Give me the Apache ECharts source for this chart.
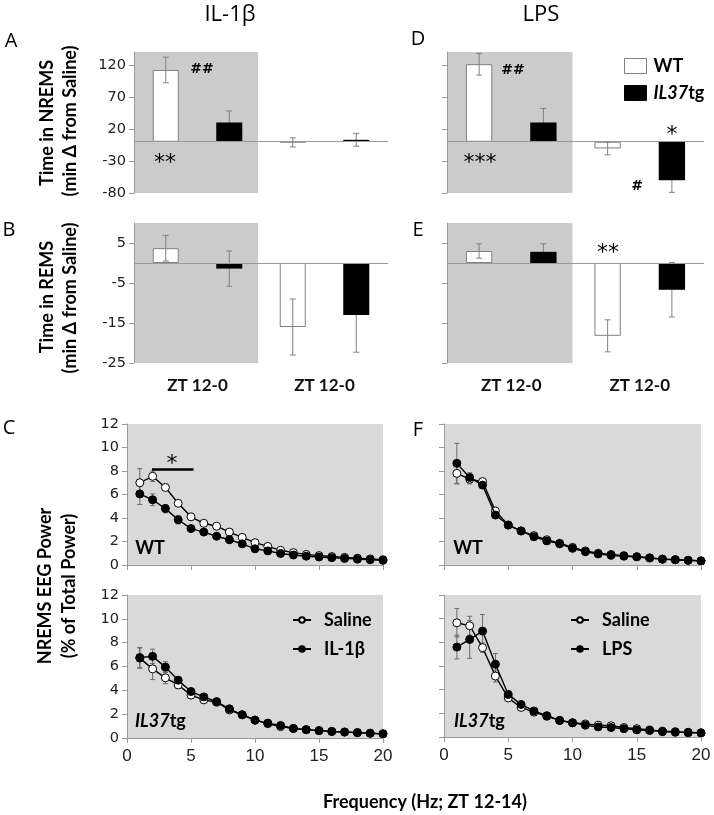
<!DOCTYPE html>
<html><head><meta charset="utf-8">
<script src="https://cdn.jsdelivr.net/npm/echarts@6/dist/echarts.min.js"></script>
<style>html,body{margin:0;padding:0;background:#fff}#main{width:714px;height:815px}</style>
</head><body><div id="main"></div>
<script>
// ---------- data ----------
const barCategories = ['ZT 12-0', 'ZT 12-0'];
const nremIl1WT = [112, -1];
const nremIl1WTErr = [20, 7];
const nremIl1TG = [30, 3];
const nremIl1TGErr = [18, 10];
const remIl1WT = [3.7, -16];
const remIl1WTErr = [3.2, 7];
const remIl1TG = [-1.4, -13];
const remIl1TGErr = [4.4, 9.3];
const nremLpsWT = [121, -10.5];
const nremLpsWTErr = [17, 10];
const nremLpsTG = [30, -60];
const nremLpsTGErr = [22, 19];
const remLpsWT = [3, -18.2];
const remLpsWTErr = [1.8, 4];
const remLpsTG = [2.8, -6.7];
const remLpsTGErr = [2, 6.8];
const nremTicks = [-80, -30, 20, 70, 120];
const remTicks = [-25, -15, -5, 5];

const freqHz = [1,2,3,4,5,6,7,8,9,10,11,12,13,14,15,16,17,18,19,20];
const il1WTSaline = [7.0,7.55,6.6,5.25,4.1,3.55,3.3,2.8,2.35,1.9,1.58,1.25,1.05,0.9,0.8,0.72,0.65,0.58,0.52,0.45];
const il1WTSalineErr = [1.2,0.45,0.25,0.2,0,0,0,0,0,0,0,0,0,0,0,0,0,0,0,0];
const il1WTIl1 = [6.05,5.55,4.8,3.85,3.1,2.8,2.45,2.15,1.8,1.38,1.2,0.98,0.85,0.75,0.68,0.62,0.56,0.5,0.45,0.4];
const il1WTIl1Err = [0.9,0.5,0.35,0.35,0.2,0,0,0,0,0,0,0,0,0,0,0,0,0,0,0];
const il1TGSaline = [6.7,5.8,5.05,4.45,3.6,3.2,3.0,2.35,1.95,1.5,1.2,0.95,0.8,0.7,0.62,0.55,0.5,0.45,0.4,0.35];
const il1TGSalineErr = [0.85,0.9,0.5,0.3,0.2,0.2,0,0,0,0,0,0,0,0,0,0,0,0,0,0];
const il1TGIl1 = [6.75,6.85,5.95,4.85,3.9,3.45,3.05,2.45,1.95,1.5,1.25,1.05,0.8,0.7,0.62,0.55,0.5,0.45,0.4,0.35];
const il1TGIl1Err = [0.85,0.6,0.45,0.3,0.2,0.2,0.3,0,0,0,0,0,0,0,0,0,0,0,0,0];
const lpsWTSaline = [7.8,7.3,7.1,4.6,3.4,2.9,2.5,2.15,1.85,1.5,1.2,1.0,0.9,0.8,0.7,0.6,0.5,0.45,0.4,0.35];
const lpsWTSalineErr = [0.9,0.4,0.2,0,0,0,0,0,0,0,0,0,0,0,0,0,0,0,0,0];
const lpsWTLps = [8.65,7.45,6.8,4.25,3.4,2.9,2.4,2.05,1.8,1.42,1.13,0.94,0.82,0.75,0.7,0.6,0.5,0.45,0.4,0.35];
const lpsWTLpsErr = [1.7,0.4,0.2,0,0,0,0,0,0,0,0,0,0,0,0,0,0,0,0,0];
const lpsTGSaline = [9.65,9.4,7.55,5.15,3.3,2.5,2.1,1.75,1.4,1.2,1.1,1.0,0.95,0.8,0.7,0.6,0.5,0.45,0.35,0.35];
const lpsTGSalineErr = [1.2,0.8,0.4,0.5,0.2,0,0,0,0,0,0,0,0,0,0,0,0,0,0,0];
const lpsTGLps = [7.6,8.25,8.95,6.15,3.6,2.75,2.2,1.8,1.4,1.2,1.0,0.85,0.8,0.7,0.6,0.55,0.45,0.4,0.4,0.35];
const lpsTGLpsErr = [1.0,1.6,1.4,0.9,0.3,0,0,0,0,0,0,0,0,0,0,0,0,0,0,0];

// ---------- styling helpers ----------
const AX = '#9a9a9a';
const BOLD = 'Lato';
const NUM = 'DejaVu Sans';
const chart = echarts.init(document.getElementById('main'));

const grids = [
  {left:134, top:52, width:254, height:141},   // 0 A
  {left:134, top:223, width:254, height:140},  // 1 B
  {left:447, top:52, width:257, height:141},   // 2 D
  {left:447, top:223, width:257, height:140},  // 3 E
  {left:127, top:424, width:256, height:141, show:true, backgroundColor:'#d9d9d9', borderWidth:0}, // 4 C1
  {left:127, top:595, width:256, height:143, show:true, backgroundColor:'#d9d9d9', borderWidth:0}, // 5 C2
  {left:444, top:424, width:257, height:141, show:true, backgroundColor:'#d9d9d9', borderWidth:0}, // 6 F1
  {left:444, top:595, width:257, height:142, show:true, backgroundColor:'#d9d9d9', borderWidth:0}  // 7 F2
];

const xAxes = [], yAxes = [], series = [];

function barErr(sign) {
  return function (p, api) {
    const c = api.value(0), v = api.value(1), e = api.value(2);
    const bw = api.size([1, 0])[0];
    const x = api.coord([c, v])[0] + sign * bw * 0.25;
    const yh = api.coord([c, v + e])[1], yl = api.coord([c, v - e])[1];
    const st = {stroke:'#808080', lineWidth:1};
    return {type:'group', children:[
      {type:'line', shape:{x1:x, y1:yh, x2:x, y2:yl}, style:st},
      {type:'line', shape:{x1:x-3, y1:yh, x2:x+3, y2:yh}, style:st},
      {type:'line', shape:{x1:x-3, y1:yl, x2:x+3, y2:yl}, style:st}]};
  };
}

function barPanel(gi, ymin, ymax, ticks, showY, showX, wt, wtErr, tg, tgErr) {
  xAxes.push({gridIndex:gi, type:'category', data:barCategories, z:5,
    axisLine:{show:false, onZero:false}, axisTick:{show:false},
    axisLabel:{show:showX, margin:14, fontFamily:BOLD, fontWeight:'bold', fontSize:17, color:'#111'}});
  yAxes.push({gridIndex:gi, type:'value', min:ymin, max:ymax, z:5,
    axisLine:{show:true, lineStyle:{color:AX}}, splitLine:{show:false},
    axisTick:{show:true, length:5, lineStyle:{color:AX}, customValues:ticks},
    axisLabel:{show:showY, customValues:ticks, fontFamily:NUM, fontSize:14.5, color:'#222', margin:8}});
  const ai = xAxes.length - 1;
  series.push({type:'custom', xAxisIndex:ai, yAxisIndex:ai, z:1, silent:true,
    data:[[0, ymax]],
    renderItem:(p, api) => {
      const bw = api.size([1, 0])[0];
      const p1 = api.coord([0, ymax]), p2 = api.coord([0, ymin]);
      return {type:'rect', shape:{x:p1[0]-bw/2+1, y:p1[1], width:bw-4, height:p2[1]-p1[1]}, style:{fill:'#cbcbcb'}};
    }});
  series.push({type:'custom', xAxisIndex:ai, yAxisIndex:ai, z:2, silent:true,
    data: tg.map((v, i) => [i, v, tgErr[i]]), renderItem: barErr(1)});
  series.push({name:'WT', type:'bar', xAxisIndex:ai, yAxisIndex:ai, z:3, data:wt,
    barWidth:'20.5%', barGap:'144%',
    itemStyle:{color:'#ffffff', borderColor:'#808080', borderWidth:1},
    markLine:{silent:true, symbol:'none', label:{show:false}, lineStyle:{color:AX, width:1, type:'solid'},
      data:[{yAxis:0}]}});
  series.push({name:'IL37tg', type:'bar', xAxisIndex:ai, yAxisIndex:ai, z:3, data:tg,
    barWidth:'20.5%', barGap:'144%', itemStyle:{color:'#000000'}});
  series.push({type:'custom', xAxisIndex:ai, yAxisIndex:ai, z:4, silent:true,
    data: wt.map((v, i) => [i, v, wtErr[i]]), renderItem: barErr(-1)});
}

function lineErr(p, api) {
  const f = api.value(0), v = api.value(1), e = api.value(2);
  const x = api.coord([f, v])[0];
  const yh = api.coord([f, v + e])[1], yl = api.coord([f, v - e])[1];
  const st = {stroke:'#6a6a6a', lineWidth:1};
  return {type:'group', children:[
    {type:'line', shape:{x1:x, y1:yh, x2:x, y2:yl}, style:st},
    {type:'line', shape:{x1:x-2.5, y1:yh, x2:x+2.5, y2:yh}, style:st},
    {type:'line', shape:{x1:x-2.5, y1:yl, x2:x+2.5, y2:yl}, style:st}]};
}

function linePanel(gi, showY, showX, saline, salErr, trtName, trt, trtErr, extra) {
  xAxes.push({gridIndex:gi, type:'value', min:0, max:20, interval:5, z:5,
    axisLine:{show:true, onZero:false, lineStyle:{color:AX}}, splitLine:{show:false},
    axisTick:{show:true, length:5, lineStyle:{color:AX}},
    axisLabel:{show:showX, fontFamily:'Liberation Sans', fontSize:17, color:'#222', margin:10}});
  yAxes.push({gridIndex:gi, type:'value', min:0, max:12, interval:2, z:5,
    axisLine:{show:true, lineStyle:{color:AX}}, splitLine:{show:false},
    axisTick:{show:true, length:5, lineStyle:{color:AX}},
    axisLabel:{show:showY, fontFamily:NUM, fontSize:14.5, color:'#222', margin:8}});
  const ai = xAxes.length - 1;
  const errData = (vals, errs) => vals.map((v, i) => [freqHz[i], v, errs[i]]).filter(d => d[2] > 0);
  series.push({type:'custom', xAxisIndex:ai, yAxisIndex:ai, z:2, silent:true, data:errData(saline, salErr), renderItem:lineErr});
  series.push({type:'custom', xAxisIndex:ai, yAxisIndex:ai, z:2, silent:true, data:errData(trt, trtErr), renderItem:lineErr});
  const sal = {name:'Saline', type:'line', xAxisIndex:ai, yAxisIndex:ai, z:3,
    data: saline.map((v, i) => [freqHz[i], v]), symbol:'circle', symbolSize:8,
    lineStyle:{color:'#000', width:1.4}, itemStyle:{color:'#ffffff', borderColor:'#000', borderWidth:1}};
  if (extra) sal.markLine = extra;
  series.push(sal);
  series.push({name:trtName, type:'line', xAxisIndex:ai, yAxisIndex:ai, z:4,
    data: trt.map((v, i) => [freqHz[i], v]), symbol:'circle', symbolSize:8,
    lineStyle:{color:'#000', width:1.4}, itemStyle:{color:'#000', borderColor:'#000', borderWidth:1}});
}

barPanel(0, -80, 140, nremTicks, true, false, nremIl1WT, nremIl1WTErr, nremIl1TG, nremIl1TGErr);
barPanel(1, -25, 10, remTicks, true, true, remIl1WT, remIl1WTErr, remIl1TG, remIl1TGErr);
barPanel(2, -80, 140, nremTicks, false, false, nremLpsWT, nremLpsWTErr, nremLpsTG, nremLpsTGErr);
barPanel(3, -25, 10, remTicks, false, true, remLpsWT, remLpsWTErr, remLpsTG, remLpsTGErr);

const sigLine = {silent:true, symbol:'none', label:{show:false}, lineStyle:{color:'#000', width:2.5, type:'solid'},
  data:[[{coord:[1.95, 8.15]}, {coord:[5.2, 8.15]}]]};
linePanel(4, true, false, il1WTSaline, il1WTSalineErr, 'IL-1β', il1WTIl1, il1WTIl1Err, sigLine);
linePanel(5, true, true, il1TGSaline, il1TGSalineErr, 'IL-1β', il1TGIl1, il1TGIl1Err);
linePanel(6, false, false, lpsWTSaline, lpsWTSalineErr, 'LPS', lpsWTLps, lpsWTLpsErr);
linePanel(7, false, true, lpsTGSaline, lpsTGSalineErr, 'LPS', lpsTGLps, lpsTGLpsErr);

// ---------- text ----------
const richTg = {i:{fontStyle:'italic', fontWeight:'bold', fontFamily:BOLD, fontSize:18, fill:'#000', color:'#000'},
                b:{fontWeight:'bold', fontFamily:BOLD, fontSize:18, fill:'#000', color:'#000'}};
function txt(x, y, text, font) {
  return {type:'text', x:x, y:y, z:100, silent:true,
    style:{text:text, font:font, fill:'#000', textAlign:'center', textVerticalAlign:'middle'}};
}
function vtxt(x, y, text, font) {
  return {type:'text', x:x, y:y, z:100, rotation:Math.PI/2, silent:true,
    style:{text:text, font:font, fill:'#000', textAlign:'center', textVerticalAlign:'middle'}};
}
const F_T = '22px "Open Sans"';
const F_L = '20px "Open Sans"';
const F_B = 'bold 18px Lato';
const F_AST = '22px "DejaVu Sans"';
const F_HASH = 'bold 14px "DejaVu Sans"';
const graphic = [
  txt(230, 15, 'IL-1β', F_T), txt(541, 15, 'LPS', F_T),
  txt(11, 41, 'A', F_L), txt(9, 230, 'B', F_L), txt(9, 428, 'C', F_L),
  txt(418, 39, 'D', F_L), txt(418, 230, 'E', F_L), txt(418, 430, 'F', F_L),
  vtxt(47, 123, 'Time in NREMS', F_B), vtxt(70, 121, '(min Δ from Saline)', F_B),
  vtxt(47, 297, 'Time in REMS', F_B), vtxt(70, 298, '(min Δ from Saline)', F_B),
  vtxt(45, 586, 'NREMS EEG Power', F_B), vtxt(69, 586, '(% of Total Power)', F_B),
  txt(425, 802, 'Frequency (Hz; ZT 12-14)', F_B),
  txt(202, 69, '##', F_HASH), txt(165, 163, '**', F_AST),
  txt(513, 70, '##', F_HASH), txt(480, 163, '***', F_AST),
  txt(672, 135, '*', F_AST), txt(637, 186, '#', F_HASH),
  txt(608, 253, '**', F_AST),
  txt(172, 464, '*', F_AST),
  txt(150, 548, 'WT', F_B), txt(468, 548, 'WT', F_B),
  {type:'text', x:135, y:721, z:100, silent:true, style:{text:'{i|IL37}{b|tg}', rich:richTg, textAlign:'left', textVerticalAlign:'middle'}},
  {type:'text', x:454, y:721, z:100, silent:true, style:{text:'{i|IL37}{b|tg}', rich:richTg, textAlign:'left', textVerticalAlign:'middle'}}
];

const legTxt = {fontFamily:BOLD, fontWeight:'bold', fontSize:18, color:'#000', padding:[0,0,0,8]};
const option = {
  animation:false,
  backgroundColor:'#ffffff',
  grid:grids, xAxis:xAxes, yAxis:yAxes, series:series, graphic:graphic,
  legend:[
    {orient:'vertical', left:619, top:52, itemWidth:22, itemHeight:15, itemGap:9, icon:'rect',
     data:[{name:'WT', itemStyle:{color:'#fff', borderColor:'#808080', borderWidth:1}},
           {name:'IL37tg', itemStyle:{color:'#000', borderColor:'#000', borderWidth:1}}],
     formatter: n => n === 'IL37tg' ? '{i|IL37}{b|tg}' : '{b|' + n + '}',
     textStyle:{rich:richTg, padding:[0,0,0,2]}, selectedMode:false},
    {orient:'vertical', left:287, top:606, itemWidth:18, itemHeight:7, itemGap:11,
     data:['Saline','IL-1β'], textStyle:legTxt, selectedMode:false},
    {orient:'vertical', left:565, top:606, itemWidth:18, itemHeight:7, itemGap:11,
     data:['Saline','LPS'], textStyle:legTxt, selectedMode:false}
  ]
};
chart.setOption(option);
</script></body></html>
